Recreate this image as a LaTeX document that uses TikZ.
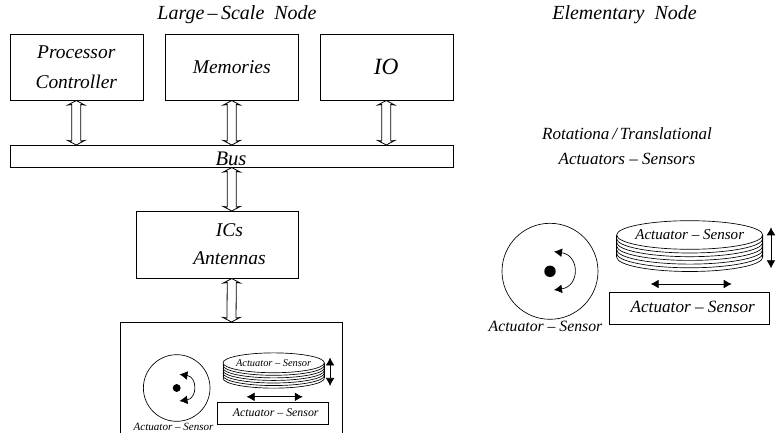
\documentclass[tikz,border=0pt]{standalone}
\usepackage{fontspec}
\setmainfont{Liberation Serif}
\usetikzlibrary{arrows.meta}
\tikzset{
  x=0.75pt,y=-0.75pt,
  line width=0.6pt,
  boxnode/.style={draw,inner sep=0pt,anchor=north west,minimum width=99.75pt,minimum height=49.5pt,align=center,font=\itshape\fontsize{14.6}{22}\selectfont},
  lbl/.style={inner sep=0pt,font=\itshape},
  busarrow/.style={draw,fill=white,line width=0.6pt,line join=miter},
  thinline/.style={line width=0.5pt},
  tips/.style={{Latex[length=6pt,width=6.5pt]}-{Latex[length=6pt,width=6.5pt]}},
}
% double-outline arrow from node anchor #1 (upper) to node anchor #2 (lower)
\newcommand{\dblarrow}[2]{%
  \draw[busarrow] (#1) -- ([xshift=6.4pt,yshift=-3.4pt]#1) -- ([xshift=3.4pt,yshift=-3pt]#1)
    -- ([xshift=3.4pt,yshift=3pt]#2) -- ([xshift=6.4pt,yshift=3.4pt]#2) -- (#2)
    -- ([xshift=-6.4pt,yshift=3.4pt]#2) -- ([xshift=-3.4pt,yshift=3pt]#2)
    -- ([xshift=-3.4pt,yshift=-3pt]#1) -- ([xshift=-6.4pt,yshift=-3.4pt]#1) -- cycle;
}
% #1 prefix, #2 scale, #3 x, #4 y, #5 font size disc, #6 font size box, #7 label size
\newcommand{\sensorgroup}[7]{%
  \begin{scope}[shift={(#3,#4)}]
    \def\sc{#2}
    \draw[thinline] (0,0) circle[radius=48*\sc];
    \fill (0,0) circle[radius=5.7*\sc];
    \coordinate (#1a) at (4*\sc,-19.7*\sc);
    \coordinate (#1b) at (4*\sc,18.7*\sc);
    \draw[thinline,tips] (#1a) .. controls (30*\sc,-16*\sc) and (30*\sc,15*\sc) .. (#1b);
    \node[lbl,font=\itshape\fontsize{#7}{#7}\selectfont] (#1lab) at (-4.5*\sc,55.5*\sc) {Actuator – Sensor};
    \foreach \k in {6,5,4,3,2,1}{
      \draw[thinline,fill=white] ({66.7*\sc},{(-36.3+\k*3.7)*\sc}) arc[start angle=180,end angle=0,x radius=73*\sc,y radius=14.3*\sc] -- ++(0,{-3.7*\sc}) ;
    }
    \draw[thinline] (66.7*\sc,-36.3*\sc) -- (66.7*\sc,-14*\sc) (212.7*\sc,-36.3*\sc) -- (212.7*\sc,-14*\sc);
    \draw[thinline,fill=white] (139.7*\sc,-36.3*\sc) ellipse[x radius=73*\sc,y radius=14.3*\sc];
    \node[lbl,font=\itshape\fontsize{#5}{#5}\selectfont] (#1disc) at (139.7*\sc,-36.3*\sc) {Actuator – Sensor};
    \coordinate (#1v1) at (221*\sc,-44*\sc);
    \coordinate (#1v2) at (221*\sc,-3*\sc);
    \draw[thinline,tips] (#1v1) -- (#1v2);
    \coordinate (#1h1) at (100.7*\sc,12.7*\sc);
    \coordinate (#1h2) at (181.7*\sc,12.7*\sc);
    \draw[thinline,tips] (#1h1) -- (#1h2);
    \draw[thinline] (59*\sc,20.7*\sc) rectangle (219*\sc,52.7*\sc);
    \node[lbl,font=\itshape\fontsize{#6}{#6}\selectfont] (#1box) at (142.7*\sc,35.7*\sc) {Actuator – Sensor};
  \end{scope}
}
\begin{document}
\begin{tikzpicture}
\useasboundingbox (0,0) rectangle (776,443);
\node[lbl,font=\itshape\fontsize{15}{15}\selectfont] (t1) at (237,15) {Large\,–\,Scale\ \ Node};
\node[lbl,font=\itshape\fontsize{15}{15}\selectfont] (t2) at (624.5,15) {Elementary\ \ Node};
\node[boxnode] (proc) at (9.5,34) {Processor\\Controller};
\node[boxnode] (mem) at (165,34) {Memories};
\node[boxnode,font=\itshape\fontsize{17.5}{17.5}\selectfont] (io) at (319.5,34) {IO};
\node[draw,inner sep=0pt,anchor=north west,minimum width=332.25pt,minimum height=16.5pt] (bus) at (9.5,145) {};
\node[lbl,font=\itshape\fontsize{15.5}{15.5}\selectfont] (buslab) at (231,159) {Bus};
\node[draw,inner sep=0pt,anchor=north west,minimum width=121.5pt,minimum height=50.25pt] (ics) at (136,211) {};
\node[lbl,align=center,font=\itshape\fontsize{14.6}{21}\selectfont] (icslab) at (229.5,244) {ICs\\Antennas};
\coordinate (mod) at (231.5,322);
\draw (120,433) -- (120,322) -- (342,322) -- (342,433);
\coordinate (busp) at (proc.south |- bus.north);
\coordinate (busm) at (mem.south |- bus.north);
\coordinate (busi) at (io.south |- bus.north);
\coordinate (busb) at (mem.south |- bus.south);
\coordinate (icst) at (mem.south |- ics.north);
\coordinate (icsb) at (mem.south |- ics.south);
\dblarrow{proc.south}{busp}
\dblarrow{mem.south}{busm}
\dblarrow{io.south}{busi}
\dblarrow{busb}{icst}
\dblarrow{icsb}{mod}
\node[lbl,font=\itshape\fontsize{12.8}{12.8}\selectfont] (r1) at (627,134) {Rotationa\,/\,Translational};
\node[lbl,font=\itshape\fontsize{12.8}{12.8}\selectfont] (r2) at (627,159) {Actuators – Sensors};
\sensorgroup{big}{1}{550}{271.3}{11.3}{12.9}{11.8}
\sensorgroup{small}{0.694}{176.7}{388}{7.8}{8.9}{8.3}
\end{tikzpicture}
\end{document}
